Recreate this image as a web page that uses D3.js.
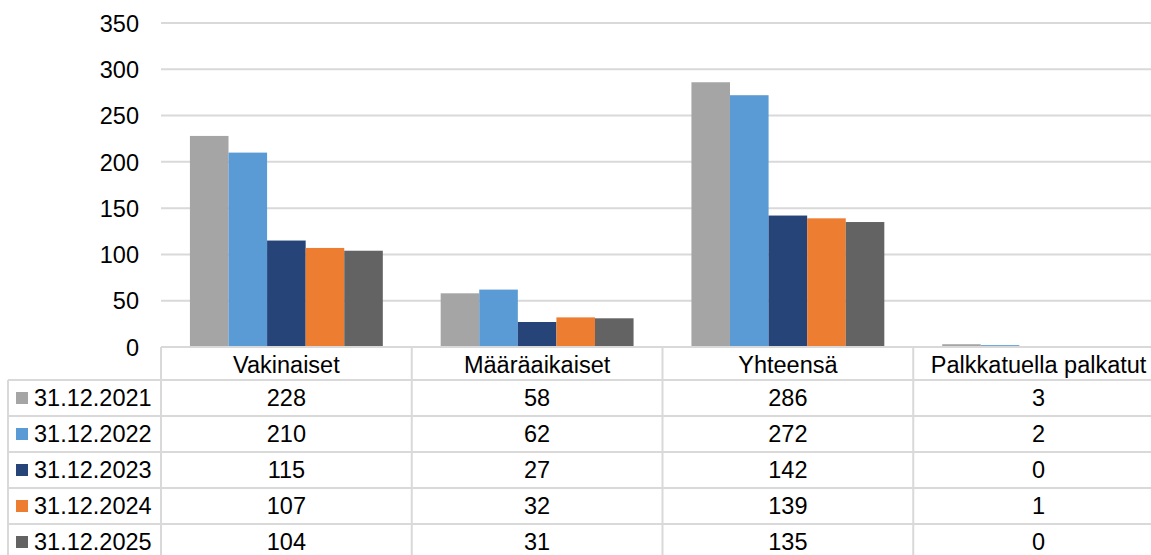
<!DOCTYPE html>
<html><head><meta charset="utf-8">
<script src="https://cdn.jsdelivr.net/npm/d3@7"></script>
<style>html,body{margin:0;padding:0;background:#fff;overflow:hidden}svg{display:block}</style>
</head><body>
<script>
const categories = ["Vakinaiset", "Määräaikaiset", "Yhteensä", "Palkkatuella palkatut"];
const seriesNames = ["31.12.2021", "31.12.2022", "31.12.2023", "31.12.2024", "31.12.2025"];
const s2021 = [228, 58, 286, 3];
const s2022 = [210, 62, 272, 2];
const s2023 = [115, 27, 142, 0];
const s2024 = [107, 32, 139, 1];
const s2025 = [104, 31, 135, 0];
const colors = ["#a5a5a5", "#5b9bd5", "#264478", "#ed7d31", "#636363"];
const yTicks = [0, 50, 100, 150, 200, 250, 300, 350];

const seriesValues = [s2021, s2022, s2023, s2024, s2025];
const W = 1151, H = 555;
const plotLeft = 161, plotRight = 1164, plotTop = 23, zeroY = 347;
const tableLeft = 8, headerH = 33, rowH = 36;
const font = "'Liberation Sans', Arial, sans-serif";
const fs = 23.5;
const gridColor = "#d9d9d9";

const svg = d3.select("body").append("svg").attr("width", W).attr("height", H)
  .style("font-family", font);

const y = d3.scaleLinear().domain([0, 350]).range([zeroY, plotTop]);
const x0 = d3.scaleBand().domain(categories).range([plotLeft, plotRight]).paddingInner(0).paddingOuter(0);
const x1 = d3.scaleBand().domain(seriesNames).range([0, x0.bandwidth()]).paddingOuter(0.75).paddingInner(0);

// gridlines
svg.append("g").selectAll("line").data(yTicks.filter(d => d > 0)).join("line")
  .attr("x1", plotLeft).attr("x2", W).attr("y1", d => y(d)).attr("y2", d => y(d))
  .attr("stroke", gridColor).attr("stroke-width", 2);

// y axis labels
const yAxis = d3.axisLeft(y).tickValues(yTicks).tickSize(0).tickPadding(0);
const ga = svg.append("g").attr("transform", `translate(${139},0)`).call(yAxis);
ga.select(".domain").remove();
ga.selectAll("text").attr("font-size", fs).attr("font-family", font).attr("fill", "#000").attr("dy", "0.35em");

// bars
const gb = svg.append("g");
seriesNames.forEach((s, si) => {
  gb.append("g").selectAll("rect").data(categories).join("rect")
    .attr("x", c => x0(c) + x1(s))
    .attr("width", x1.bandwidth())
    .attr("y", (c, ci) => y(seriesValues[si][ci]))
    .attr("height", (c, ci) => zeroY - y(seriesValues[si][ci]))
    .attr("fill", colors[si]);
});

// data table
const gt = svg.append("g");
const rowTop = i => zeroY + headerH + i * rowH;
gt.append("line").attr("x1", plotLeft).attr("x2", W).attr("y1", zeroY).attr("y2", zeroY)
  .attr("stroke", gridColor).attr("stroke-width", 2);
for (let i = 0; i <= seriesNames.length; i++) {
  gt.append("line").attr("x1", tableLeft).attr("x2", W).attr("y1", rowTop(i)).attr("y2", rowTop(i))
    .attr("stroke", gridColor).attr("stroke-width", 2);
}
gt.append("line").attr("x1", tableLeft).attr("x2", tableLeft).attr("y1", rowTop(0)).attr("y2", H)
  .attr("stroke", gridColor).attr("stroke-width", 2);
categories.forEach(c => {
  gt.append("line").attr("x1", x0(c)).attr("x2", x0(c)).attr("y1", zeroY).attr("y2", H)
    .attr("stroke", gridColor).attr("stroke-width", 2);
});
gt.append("line").attr("x1", plotRight).attr("x2", plotRight).attr("y1", zeroY).attr("y2", H)
  .attr("stroke", gridColor).attr("stroke-width", 2);

gt.selectAll("text.hdr").data(categories).join("text").attr("class", "hdr")
  .attr("x", c => x0(c) + x0.bandwidth() / 2).attr("y", zeroY + headerH / 2 + 1)
  .attr("dy", "0.35em").attr("text-anchor", "middle").attr("font-size", fs).text(c => c);

seriesNames.forEach((s, si) => {
  const cy = rowTop(si) + rowH / 2;
  gt.append("rect").attr("x", 16).attr("y", cy - 6).attr("width", 12).attr("height", 12).attr("fill", colors[si]);
  gt.append("text").attr("x", 34).attr("y", cy).attr("dy", "0.35em").attr("font-size", fs).text(s);
  gt.append("g").selectAll("text").data(categories).join("text")
    .attr("x", c => x0(c) + x0.bandwidth() / 2).attr("y", cy).attr("dy", "0.35em")
    .attr("text-anchor", "middle").attr("font-size", fs)
    .text((c, ci) => seriesValues[si][ci]);
});
</script>
</body></html>
